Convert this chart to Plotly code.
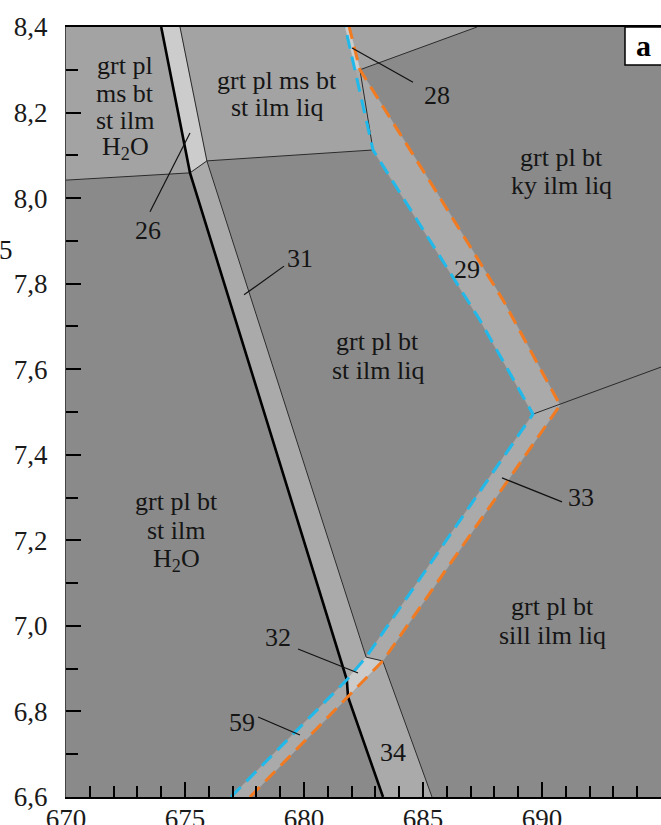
import plotly.graph_objects as go

# ---- phase-field geometry (T in deg C, P in kbar) ----
# thick reaction line
black_T = [674.0, 675.21, 681.80, 681.85, 683.32]
black_P = [8.4, 8.059, 6.874, 6.834, 6.6]

# dashed solidus-type lines
cyan_T = [676.93, 681.80, 682.61, 689.62, 687.39, 682.90, 681.73]
cyan_P = [6.6, 6.874, 6.927, 7.495, 7.715, 8.1125, 8.4]
orange_T = [677.73, 681.85, 683.31, 690.76, 688.36, 685.59, 682.35, 681.90]
orange_P = [6.6, 6.834, 6.918, 7.516, 7.762, 8.012, 8.30, 8.4]

# filled fields
ms_h2o_T = [670.0, 674.0, 675.21, 670.0]
ms_h2o_P = [8.4, 8.4, 8.059, 8.042]
f26_T = [674.0, 674.79, 675.92, 675.21]
f26_P = [8.4, 8.4, 8.087, 8.059]
ms_liq_T = [674.79, 681.73, 682.18, 682.90, 675.92]
ms_liq_P = [8.4, 8.4, 8.30, 8.1125, 8.087]
ms_liq_b_T = [681.90, 687.27, 682.35]
ms_liq_b_P = [8.4, 8.4, 8.30]
f28_T = [681.73, 681.90, 682.35, 682.18]
f28_P = [8.4, 8.4, 8.30, 8.30]
f29_T = [682.18, 682.35, 685.59, 688.36, 690.76, 689.62, 687.39, 682.90]
f29_P = [8.30, 8.30, 8.012, 7.762, 7.516, 7.495, 7.715, 8.1125]
f31_T = [675.21, 675.92, 682.61, 681.80]
f31_P = [8.059, 8.087, 6.927, 6.874]
f32_T = [681.80, 682.61, 683.31, 681.85]
f32_P = [6.874, 6.927, 6.918, 6.834]
f33_T = [682.61, 689.62, 690.76, 683.31]
f33_P = [6.927, 7.495, 7.516, 6.918]
f34_T = [681.85, 683.31, 685.38, 683.32]
f34_P = [6.834, 6.918, 6.6, 6.6]
f59_T = [676.93, 681.80, 681.85, 677.73]
f59_P = [6.6, 6.874, 6.834, 6.6]

# thin field boundaries
thin_T = [[670.0, 675.21], [675.21, 675.92], [674.79, 675.92], [675.92, 682.90],
          [675.92, 682.61], [682.61, 683.31], [683.31, 685.38], [682.35, 687.27],
          [682.35, 682.90], [689.62, 695.0]]
thin_P = [[8.042, 8.059], [8.059, 8.087], [8.4, 8.087], [8.087, 8.1125],
          [8.087, 6.927], [6.927, 6.918], [6.918, 6.6], [8.30, 8.4],
          [8.30, 8.1125], [7.495, 7.605]]

# assemblage labels: lines, T, P of first line, line gap (px)
field_labels = [
    (["grt pl", "ms bt", "st ilm", "H<sub>2</sub>O"], 672.48, 8.309, 27.5),
    (["grt pl ms bt", "st ilm liq"], 678.87, 8.274, 27),
    (["grt pl bt", "ky ilm liq"], 690.84, 8.094, 28),
    (["grt pl bt", "st ilm liq"], 683.10, 7.664, 28.5),
    (["grt pl bt", "st ilm", "H<sub>2</sub>O"], 674.66, 7.290, 29),
    (["grt pl bt", "sill ilm liq"], 690.46, 7.045, 29),
]

# field numbers and their leader lines
num_text = ["26", "31", "28", "29", "33", "32", "59", "34"]
num_T = [673.45, 679.83, 685.59, 686.85, 691.64, 678.91, 677.39, 683.74]
num_P = [7.925, 7.860, 8.241, 7.832, 7.301, 6.974, 6.773, 6.705]
leader_T = [[673.53, 675.21], [677.48, 679.16], [682.02, 684.58],
            [688.32, 690.84], [679.75, 682.27], [678.07, 679.83]]
leader_P = [[7.968, 8.152], [7.774, 7.841], [8.351, 8.271],
            [7.346, 7.290], [6.946, 6.890], [6.787, 6.745]]

x_ticks = [670, 675, 680, 685, 690, 695]
y_ticks = [6.6, 6.8, 7.0, 7.2, 7.4, 7.6, 7.8, 8.0, 8.2, 8.4]

DARK = "#8a8a8a"
TOPF = "#a3a3a3"
BAND = "#aaaaaa"
LIGHT = "#cccccc"
CYAN = "#20b9ea"
ORANGE = "#f27b22"
SERIF = "Liberation Serif, Times New Roman, serif"
TXT = "#151515"

fields = [
    (ms_h2o_T, ms_h2o_P, TOPF), (f26_T, f26_P, LIGHT), (ms_liq_T, ms_liq_P, TOPF),
    (ms_liq_b_T, ms_liq_b_P, TOPF), (f28_T, f28_P, LIGHT), (f29_T, f29_P, BAND),
    (f31_T, f31_P, BAND), (f32_T, f32_P, LIGHT), (f33_T, f33_P, BAND),
    (f34_T, f34_P, BAND), (f59_T, f59_P, BAND),
]

fig = go.Figure()

for t, p, c in fields:
    fig.add_trace(go.Scatter(x=t + [t[0]], y=p + [p[0]], fill="toself", fillcolor=c,
                             mode="lines", line=dict(color=c, width=0.5),
                             hoverinfo="skip", showlegend=False))

for t, p in zip(thin_T, thin_P):
    fig.add_trace(go.Scatter(x=t, y=p, mode="lines", line=dict(color="#2a2a2a", width=1),
                             hoverinfo="skip", showlegend=False))

fig.add_trace(go.Scatter(x=black_T, y=black_P, mode="lines",
                         line=dict(color="black", width=2.6), showlegend=False))
fig.add_trace(go.Scatter(x=cyan_T, y=cyan_P, mode="lines",
                         line=dict(color=CYAN, width=3, dash="14px,8px"), showlegend=False))
fig.add_trace(go.Scatter(x=orange_T, y=orange_P, mode="lines",
                         line=dict(color=ORANGE, width=3, dash="14px,8px"), showlegend=False))

for t, p in zip(leader_T, leader_P):
    fig.add_trace(go.Scatter(x=t, y=p, mode="lines", line=dict(color="#111", width=1.2),
                             hoverinfo="skip", showlegend=False))

for lines, t, p, gap in field_labels:
    for i, s in enumerate(lines):
        fig.add_annotation(x=t, y=p, text=s, showarrow=False, yshift=-gap * i,
                           xanchor="center", yanchor="middle",
                           font=dict(family=SERIF, size=26, color=TXT))

for s, t, p in zip(num_text, num_T, num_P):
    fig.add_annotation(x=t, y=p, text=s, showarrow=False, xanchor="center", yanchor="middle",
                       font=dict(family=SERIF, size=26, color=TXT))

# panel letter box
fig.add_shape(type="rect", xref="paper", yref="paper", x0=0.9395, x1=1.06, y0=0.9506, y1=1.0,
              fillcolor="white", line=dict(color="black", width=1.5), layer="below")
fig.add_annotation(xref="paper", yref="paper", x=0.9714, y=0.9766, text="<b>a</b>",
                   xanchor="center", yanchor="middle", showarrow=False,
                   font=dict(family=SERIF, size=30, color="black"))
# clipped axis-title fragment
fig.add_annotation(xref="paper", yref="paper", x=-0.1008, y=0.7104, text="5",
                   xanchor="center", yanchor="middle", showarrow=False,
                   font=dict(family=SERIF, size=27, color=TXT))

fig.update_layout(
    width=661, height=825,
    margin=dict(l=66, r=0, t=27, b=28, autoexpand=False),
    paper_bgcolor="white", plot_bgcolor=DARK,
    separators=", ",
    showlegend=False,
)
fig.update_xaxes(range=[670, 695], tickvals=x_ticks, ticks="inside", ticklen=15,
                 tickwidth=1.5, tickcolor="black", showgrid=False, zeroline=False,
                 showline=True, linecolor="black", linewidth=2, mirror=True,
                 automargin=False,
                 minor=dict(ticks="inside", ticklen=11, tickwidth=1.5, tickcolor="black",
                            dtick=1, showgrid=False),
                 tickfont=dict(family=SERIF, size=27, color="#1a1a1a"),
                 ticklabelstandoff=-3)
fig.update_yaxes(range=[6.6, 8.4], tickvals=y_ticks, tickformat=".1f", ticks="inside",
                 ticklen=15, tickwidth=1.5, tickcolor="black", showgrid=False,
                 zeroline=False, showline=True, linecolor="#444", linewidth=1,
                 automargin=False,
                 minor=dict(ticks="inside", ticklen=12, tickwidth=1.5, tickcolor="black",
                            dtick=0.1, showgrid=False),
                 tickfont=dict(family=SERIF, size=27, color="#1a1a1a"),
                 ticklabelstandoff=12)

fig.write_html("out.html")
